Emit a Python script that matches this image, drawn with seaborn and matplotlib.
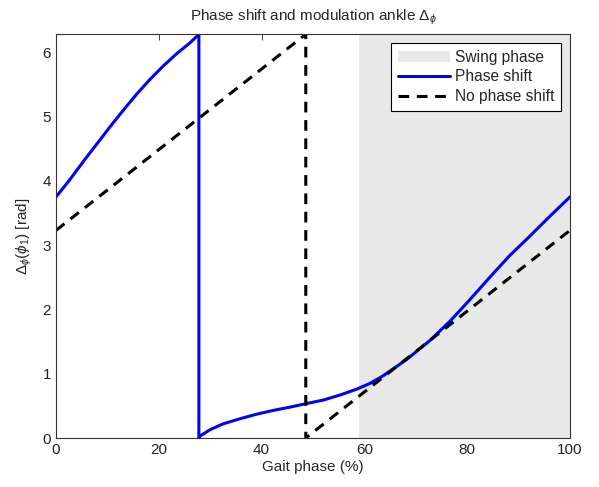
import numpy as np
import pandas as pd
import matplotlib
matplotlib.use("Agg")
import matplotlib.pyplot as plt
import seaborn as sns

# gait phase (%) and phase shift values
shift_x = [0, 2.7, 5.3, 7.9, 10.5, 13.1, 15.7, 18.3, 20.9, 23.5, 26.1, 27.8,
           27.8, 28.0, 30, 32.5, 35.8, 39.0, 42.3, 45.5, 48.4, 52.0, 55.3, 58.5,
           61.1, 63.7, 68.2, 72.8, 76.7, 80.5, 84.4, 88.3, 92.2, 96.1, 100]
shift_y = [3.75, 4.02, 4.30, 4.57, 4.84, 5.10, 5.35, 5.58, 5.79, 5.98, 6.15, 6.28,
           0.0, 0.03, 0.13, 0.22, 0.30, 0.37, 0.43, 0.48, 0.53, 0.59, 0.67, 0.76,
           0.85, 0.97, 1.22, 1.52, 1.82, 2.15, 2.50, 2.84, 3.14, 3.45, 3.75]

noshift_x = [0, 48.6, 48.6, 100]
noshift_y = [3.23, 6.28, 0.0, 3.23]

swing_start = 58.9
swing_end = 100

sns.set_style("white")
plt.rcParams['font.family'] = ['Liberation Sans', 'DejaVu Sans']
plt.rcParams['mathtext.fontset'] = 'custom'
plt.rcParams['mathtext.rm'] = 'Liberation Sans'
plt.rcParams['mathtext.it'] = 'Liberation Sans:italic'

fig = plt.figure(figsize=(5.99, 4.87), dpi=100)
ax = fig.add_axes([0.0935, 0.1006, 0.858, 0.8294])

ax.axvspan(swing_start, swing_end, color='#e8e8e8', lw=0, label='Swing phase')

shift_df = pd.DataFrame({'x': shift_x, 'y': shift_y})
noshift_df = pd.DataFrame({'x': noshift_x, 'y': noshift_y})

sns.lineplot(data=shift_df, x='x', y='y', sort=False, estimator=None,
             color='#0000ff', lw=2.2, ax=ax, label='Phase shift')
sns.lineplot(data=noshift_df, x='x', y='y', sort=False, estimator=None,
             color='black', lw=2.2, ls=(0, (3.5, 2.5)), ax=ax, label='No phase shift')

ax.set_xlim(0, 100)
ax.set_ylim(0, 2 * np.pi)
ax.set_xticks([0, 20, 40, 60, 80, 100])
ax.set_yticks([0, 1, 2, 3, 4, 5, 6])
ax.tick_params(direction='in', top=True, right=True, length=4, width=0.6,
               labelsize=11, colors='#222222')
for s in ax.spines.values():
    s.set_color('#333333')
    s.set_linewidth(0.8)

ax.set_xlabel('Gait phase (%)', fontsize=11, labelpad=2)
ax.set_ylabel(r'$\Delta_\phi(\phi_1)$ [rad]', fontsize=11, labelpad=6)
ax.set_title(r'Phase shift and modulation ankle $\Delta_\phi$', fontsize=11, pad=10)

leg = ax.legend(loc='upper right', fontsize=11.2, frameon=True, fancybox=False,
                edgecolor='black', framealpha=1, borderpad=0.45, labelspacing=0.3,
                handlelength=3.3, handletextpad=0.35, borderaxespad=0.55)
leg.get_frame().set_linewidth(0.8)

fig.savefig('out.png', dpi=100)
